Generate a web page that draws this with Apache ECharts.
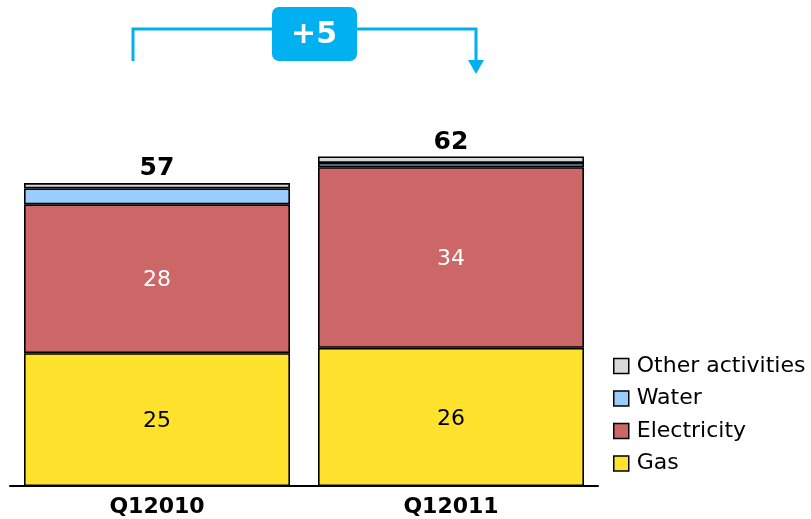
<!DOCTYPE html>
<html><head><meta charset="utf-8">
<script src="https://cdn.jsdelivr.net/npm/echarts@6/dist/echarts.min.js"></script>
<style>html,body{margin:0;padding:0;background:#fff}#c{width:811px;height:519px}</style>
</head><body><div id="c"></div>
<script>
const categories = ['Q12010', 'Q12011'];
const gas = [25, 26];
const electricity = [28, 34];
const water = [3, 0.8];
const other = [1, 1.2];
const totals = [57, 62];
const changeLabel = '+5';

const font = 'DejaVu Sans, Verdana, sans-serif';
const chart = echarts.init(document.getElementById('c'));
const bw = 266;
function s(name, data, color, labelColor, showLabel) {
  return {
    name, type: 'bar', stack: 'a', data, barWidth: bw,
    itemStyle: { color, borderColor: '#000', borderWidth: 1.6 },
    label: { show: showLabel, position: 'inside', offset: [0, 2], color: labelColor, fontSize: 22, fontFamily: font },
    emphasis: { disabled: true }
  };
}
const otherSeries = s('Other activities', other, '#D9D9D9', '#000', true);
otherSeries.label = {
  show: true, position: 'top', distance: 2, color: '#000', fontSize: 25, fontWeight: 'bold', fontFamily: font,
  formatter: p => totals[p.dataIndex]
};
chart.setOption({
  animation: false,
  grid: { left: 10, right: 213, top: 114, bottom: 33, containLabel: false },
  xAxis: {
    type: 'category', data: categories,
    axisLine: { lineStyle: { color: '#000', width: 2 } },
    axisTick: { show: false },
    axisLabel: { color: '#000', fontSize: 22, fontWeight: 'bold', fontFamily: font, margin: 10 }
  },
  yAxis: { type: 'value', min: 0, max: 70, show: false, splitLine: { show: false } },
  legend: {
    data: ['Other activities', 'Water', 'Electricity', 'Gas'],
    orient: 'vertical', left: 613, top: 355, itemWidth: 15, itemHeight: 15, itemGap: 10.5,
    icon: 'rect', padding: 0,
    itemStyle: { borderColor: '#000', borderWidth: 1.5 },
    textStyle: { color: '#000', fontSize: 22, lineHeight: 22, fontFamily: font, padding: [0, 0, 0, 3] }
  },
  series: [
    s('Gas', gas, '#FFE22E', '#000', true),
    s('Electricity', electricity, '#CD6666', '#fff', true),
    s('Water', water, '#99CCFF', '#000', false),
    otherSeries
  ],
  graphic: [
    { type: 'polyline', shape: { points: [[133, 61], [133, 29], [476, 29], [476, 62]] },
      style: { stroke: '#00B0F0', lineWidth: 3, fill: null } },
    { type: 'polygon', shape: { points: [[468, 60], [484, 60], [476, 74]] }, style: { fill: '#00B0F0' } },
    { type: 'rect', shape: { x: 272, y: 7, width: 85, height: 54, r: 7 }, style: { fill: '#00B0F0' } },
    { type: 'text', x: 314, y: 35, style: { text: changeLabel, fill: '#fff', font: 'bold 30px ' + font, textAlign: 'center', textVerticalAlign: 'middle' } }
  ]
});
</script></body></html>
